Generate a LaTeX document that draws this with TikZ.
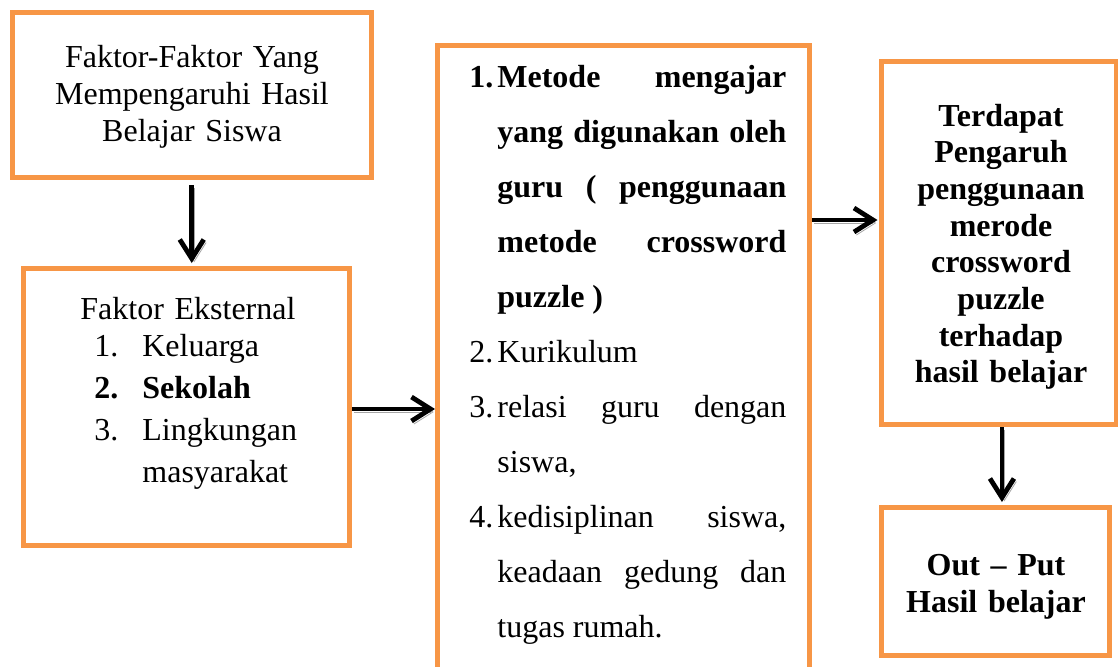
\documentclass[tikz,border=0pt]{standalone}
\usepackage{fontspec}
\setmainfont{Liberation Serif}
\usetikzlibrary{arrows.meta}
\definecolor{boxorange}{HTML}{F79646}

\begin{document}
\begin{tikzpicture}[x=0.5pt,y=-0.5pt,
    kotak/.style={draw=boxorange,line width=2.5pt,inner sep=0pt},
    isi/.style={inner sep=0pt,font=\fontsize{16}{18.5}\selectfont},
    panah/.style={line width=2.4pt,-{Straight Barb[length=9.5pt,width=12pt]},
        preaction={draw=black!35,transform canvas={shift={(1.2pt,-1.5pt)}}}}]

    \useasboundingbox (0,0) rectangle (1118,666);
    \clip (0,0) rectangle (1118,666);

    \node[kotak,minimum width=179.25pt,minimum height=82.75pt] (faktor) at (191.75,94.75) {};
    \node[kotak,minimum width=163pt,minimum height=138.5pt] (eksternal) at (186.5,407) {};
    \node[kotak,minimum width=186pt,minimum height=327.5pt] (metode) at (623.5,372.5) {};
    \node[kotak,minimum width=117.25pt,minimum height=181.5pt] (pengaruh) at (998.75,243) {};
    \node[kotak,minimum width=114pt,minimum height=74pt] (output) at (995.5,581.5) {};

    \node[isi,text width=175pt,align=center,anchor=base] (faktor-t) at (192,67)
        {Faktor-Faktor Yang\\Mempengaruhi Hasil\\Belajar Siswa};
    \node[isi,font=\fontsize{16}{21}\selectfont,text width=120pt,align=left,anchor=base west] (eksternal-t) at (80,319.3)
        {Faktor Eksternal\par\vspace{-2.2pt}
        \hangindent=31pt\hangafter=1\hspace*{7pt}\makebox[24pt][l]{1.}Keluarga\par
        \hangindent=31pt\hangafter=1\hspace*{7pt}\makebox[24pt][l]{\bfseries 2.}\textbf{Sekolah}\par
        \hangindent=31pt\hangafter=1\hspace*{7pt}\makebox[24pt][l]{3.}Lingkungan masyarakat\par};
    \node[isi,font=\fontsize{16}{27.5}\selectfont,text width=158.5pt,align=justify,anchor=base west] (metode-t) at (469,87)
        {\tolerance=10000\hyphenpenalty=10000
        \hangindent=14pt\hangafter=1\noindent\makebox[14pt][l]{\bfseries 1.}\textbf{Metode mengajar\linebreak yang digunakan oleh\linebreak guru ( penggunaan\linebreak metode crossword\linebreak puzzle )}\par
        \hangindent=14pt\hangafter=1\noindent\makebox[14pt][l]{2.}Kurikulum\par
        \hangindent=14pt\hangafter=1\noindent\makebox[14pt][l]{3.}relasi guru dengan\linebreak siswa,\par
        \hangindent=14pt\hangafter=1\noindent\makebox[14pt][l]{4.}kedisiplinan siswa,\linebreak keadaan gedung dan\linebreak tugas rumah.\par};
    \node[isi,font=\bfseries\fontsize{16}{18.35}\selectfont,text width=115pt,align=center,anchor=base] (pengaruh-t) at (1001,126)
        {Terdapat\\Pengaruh\\penggunaan\\merode\\crossword\\puzzle\\terhadap\\hasil belajar};
    \node[isi,font=\bfseries\fontsize{16}{18.5}\selectfont,text width=110pt,align=center,anchor=base] (output-t) at (996,575)
        {Out -- Put\\Hasil belajar};

    \draw[panah,shorten <=2.5pt,shorten >=1.5pt] (faktor.south) -- (faktor.south |- eksternal.north);
    \draw[panah] ([yshift=-1pt]eksternal.east) -- ([yshift=-1pt]eksternal.east -| metode.west);
    \draw[panah,shorten >=0.75pt] ([yshift=11.5pt]pengaruh.west -| metode.east) -- ([yshift=11.5pt]pengaruh.west);
    \draw[panah,shorten >=1.5pt] ([xshift=1.6pt]pengaruh.south) -- ([xshift=1.6pt]pengaruh.south |- output.north);

\end{tikzpicture}
\end{document}
